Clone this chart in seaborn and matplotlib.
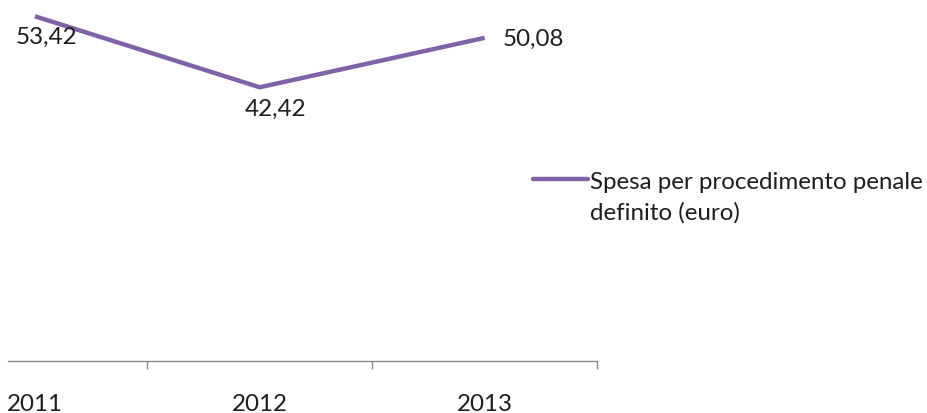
import matplotlib
matplotlib.use("Agg")
import matplotlib.pyplot as plt
from matplotlib.lines import Line2D
from matplotlib.ticker import FixedLocator
import seaborn as sns
import pandas as pd

# Data
years = ["2011", "2012", "2013"]
spesa = [53.42, 42.42, 50.08]
value_labels = ["53,42", "42,42", "50,08"]
series_name = "Spesa per procedimento penale\ndefinito (euro)"

sns.set_theme(style="white")
plt.rcParams["font.family"] = ["Lato", "DejaVu Sans"]

LINE_COLOR = "#7F63A6"
TEXT_COLOR = "#1E1E1E"
AXIS_COLOR = "#8A8A8A"
FS = 17.4

W, H = 928, 414
fig = plt.figure(figsize=(W / 100, H / 100), dpi=100)
# plot area in pixel terms: x 8..597, y 0..362 (from top)
ax = fig.add_axes([8 / W, 1 - 362 / H, (597 - 8) / W, 362 / H])

df = pd.DataFrame({"anno": years, "spesa": spesa})
sns.lineplot(data=df, x="anno", y="spesa", ax=ax, color=LINE_COLOR,
             linewidth=3.2, sort=False, legend=False)
for ln in ax.get_lines():
    ln.set_solid_capstyle("butt")
    ln.set_solid_joinstyle("miter")

ax.set_xlim(-0.12, 2.5)
ax.set_ylim(0, 56.1)

# category labels without tick marks, boundary ticks in between
ax.set_xticks(range(len(years)))
ax.set_xticklabels(years, fontsize=FS, color=TEXT_COLOR)
ax.tick_params(axis="x", which="major", length=0, pad=23)
ax.xaxis.set_minor_locator(FixedLocator([0.5, 1.5, 2.5]))
ax.tick_params(axis="x", which="minor", length=6, width=1, color=AXIS_COLOR,
               direction="out", bottom=True)
ax.set_yticks([])
ax.set_xlabel("")
ax.set_ylabel("")
for side in ["top", "left", "right"]:
    ax.spines[side].set_visible(False)
ax.spines["bottom"].set_color(AXIS_COLOR)
ax.spines["bottom"].set_linewidth(1)

# value labels (offsets in points)
offsets = [(8, -14.5), (11, -15), (35, 0)]
for i, (v, lab, off) in enumerate(zip(spesa, value_labels, offsets)):
    ax.annotate(lab, (i, v), xytext=off, textcoords="offset points",
                ha="center", va="center", fontsize=FS, color=TEXT_COLOR,
                annotation_clip=False)

# legend entry
ly = 1 - 180 / H
fig.add_artist(Line2D([533 / W, 588 / W], [ly, ly], color=LINE_COLOR,
                      linewidth=3.2, transform=fig.transFigure))
first, second = series_name.split("\n")
fig.text(590 / W, 1 - 183 / H, first, ha="left", va="center",
         fontsize=FS, color=TEXT_COLOR)
fig.text(590 / W, 1 - 213 / H, second, ha="left", va="center",
         fontsize=FS, color=TEXT_COLOR)

fig.savefig("out.png", dpi=100, facecolor="white")
